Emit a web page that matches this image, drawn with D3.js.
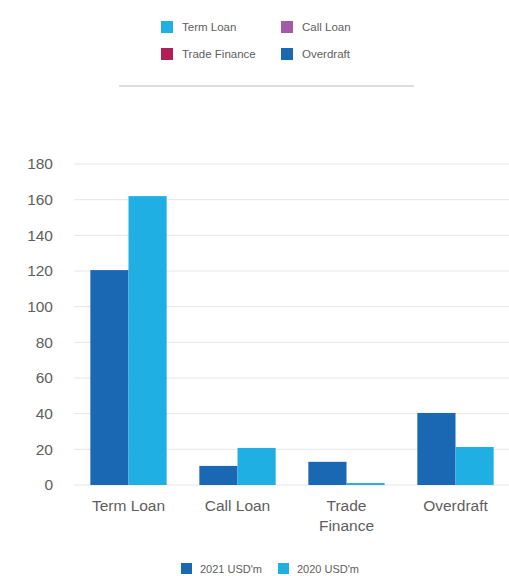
<!DOCTYPE html>
<html lang="en">
<head>
<meta charset="UTF-8">
<script src="https://d3js.org/d3.v7.min.js"></script>
<style>
body {margin: 0; background: #fff; font-family: "Liberation Sans", Arial, sans-serif;}
svg {display: block;}
</style>
</head>
<body>
<svg width="509" height="576"></svg>
<script>
// data
var categories = ["Term Loan", "Call Loan", "Trade Finance", "Overdraft"];
var series = ["2021 USD'm", "2020 USD'm"];
var values2021 = [120.5, 10.7, 13, 40.4];
var values2020 = [162, 20.8, 1.1, 21.3];
var yTicks = [0, 20, 40, 60, 80, 100, 120, 140, 160, 180];
var topLegend = ["Term Loan", "Call Loan", "Trade Finance", "Overdraft"];
var topLegendColors = ["#20afe3", "#a259a8", "#b01f56", "#1a67b3"];
var seriesColors = ["#1a67b3", "#20afe3"];

var svg = d3.select("svg");
var grey = "#5e5e5e";

var x = d3.scaleBand().domain(categories).range([74, 510]).paddingInner(0.3).paddingOuter(0.15);
var xs = d3.scaleBand().domain(series).range([0, x.bandwidth()]);
var y = d3.scaleLinear().domain([0, 180]).range([485, 164]);

// gridlines
svg.append("g").selectAll("line")
  .data(yTicks)
  .enter().append("line")
  .attr("x1", 74).attr("x2", 509)
  .attr("y1", function(d) { return y(d); })
  .attr("y2", function(d) { return y(d); })
  .attr("stroke", "#e6e6e6").attr("stroke-width", 1);

// y axis labels
var yAxis = d3.axisLeft(y).tickValues(yTicks).tickSize(0).tickPadding(0);
svg.append("g")
  .attr("transform", "translate(53,0)")
  .call(yAxis)
  .call(function(g) { g.select(".domain").remove(); })
  .selectAll("text")
  .attr("font-family", "Liberation Sans, Arial, sans-serif")
  .attr("font-size", 15.5)
  .attr("fill", grey);

// bars
var rows = categories.map(function(c, i) { return {cat: c, vals: [values2021[i], values2020[i]]}; });
svg.append("g").selectAll("g")
  .data(rows)
  .enter().append("g")
  .attr("transform", function(d) { return "translate(" + x(d.cat) + ",0)"; })
  .selectAll("rect")
  .data(function(d) { return d.vals.map(function(v, j) { return {s: series[j], v: v, j: j}; }); })
  .enter().append("rect")
  .attr("x", function(d) { return xs(d.s); })
  .attr("width", xs.bandwidth())
  .attr("y", function(d) { return y(d.v); })
  .attr("height", function(d) { return y(0) - y(d.v); })
  .attr("fill", function(d) { return seriesColors[d.j]; });

// x labels
var xl = svg.append("g").selectAll("text")
  .data(categories)
  .enter().append("text")
  .attr("x", function(d) { return x(d) + x.bandwidth() / 2; })
  .attr("y", 511)
  .attr("text-anchor", "middle")
  .attr("font-size", 15.5)
  .attr("fill", grey);
xl.each(function(d) {
  var words = d === "Trade Finance" ? ["Trade", "Finance"] : [d];
  var t = d3.select(this);
  words.forEach(function(w, i) {
    t.append("tspan").attr("x", x(d) + x.bandwidth() / 2).attr("dy", i ? 20 : 0).text(w);
  });
});

// top legend
var tl = svg.append("g").selectAll("g")
  .data(topLegend)
  .enter().append("g")
  .attr("transform", function(d, i) { return "translate(" + (161 + (i % 2) * 120) + "," + (21 + Math.floor(i / 2) * 27) + ")"; });
tl.append("rect").attr("width", 12).attr("height", 12)
  .attr("fill", function(d, i) { return topLegendColors[i]; });
tl.append("text").attr("x", 21).attr("y", 10)
  .attr("font-size", 11.5).attr("fill", grey)
  .text(function(d) { return d; });

// separator
svg.append("line")
  .attr("x1", 119).attr("x2", 414).attr("y1", 86).attr("y2", 86)
  .attr("stroke", "#dddddd").attr("stroke-width", 2);

// bottom legend
var bl = svg.append("g").selectAll("g")
  .data(series)
  .enter().append("g")
  .attr("transform", function(d, i) { return "translate(" + (181 + i * 97) + ",563)"; });
bl.append("rect").attr("width", 11).attr("height", 11)
  .attr("fill", function(d, i) { return seriesColors[i]; });
bl.append("text").attr("x", 19).attr("y", 10)
  .attr("font-size", 11).attr("fill", grey)
  .text(function(d) { return d; });
</script>
</body>
</html>
